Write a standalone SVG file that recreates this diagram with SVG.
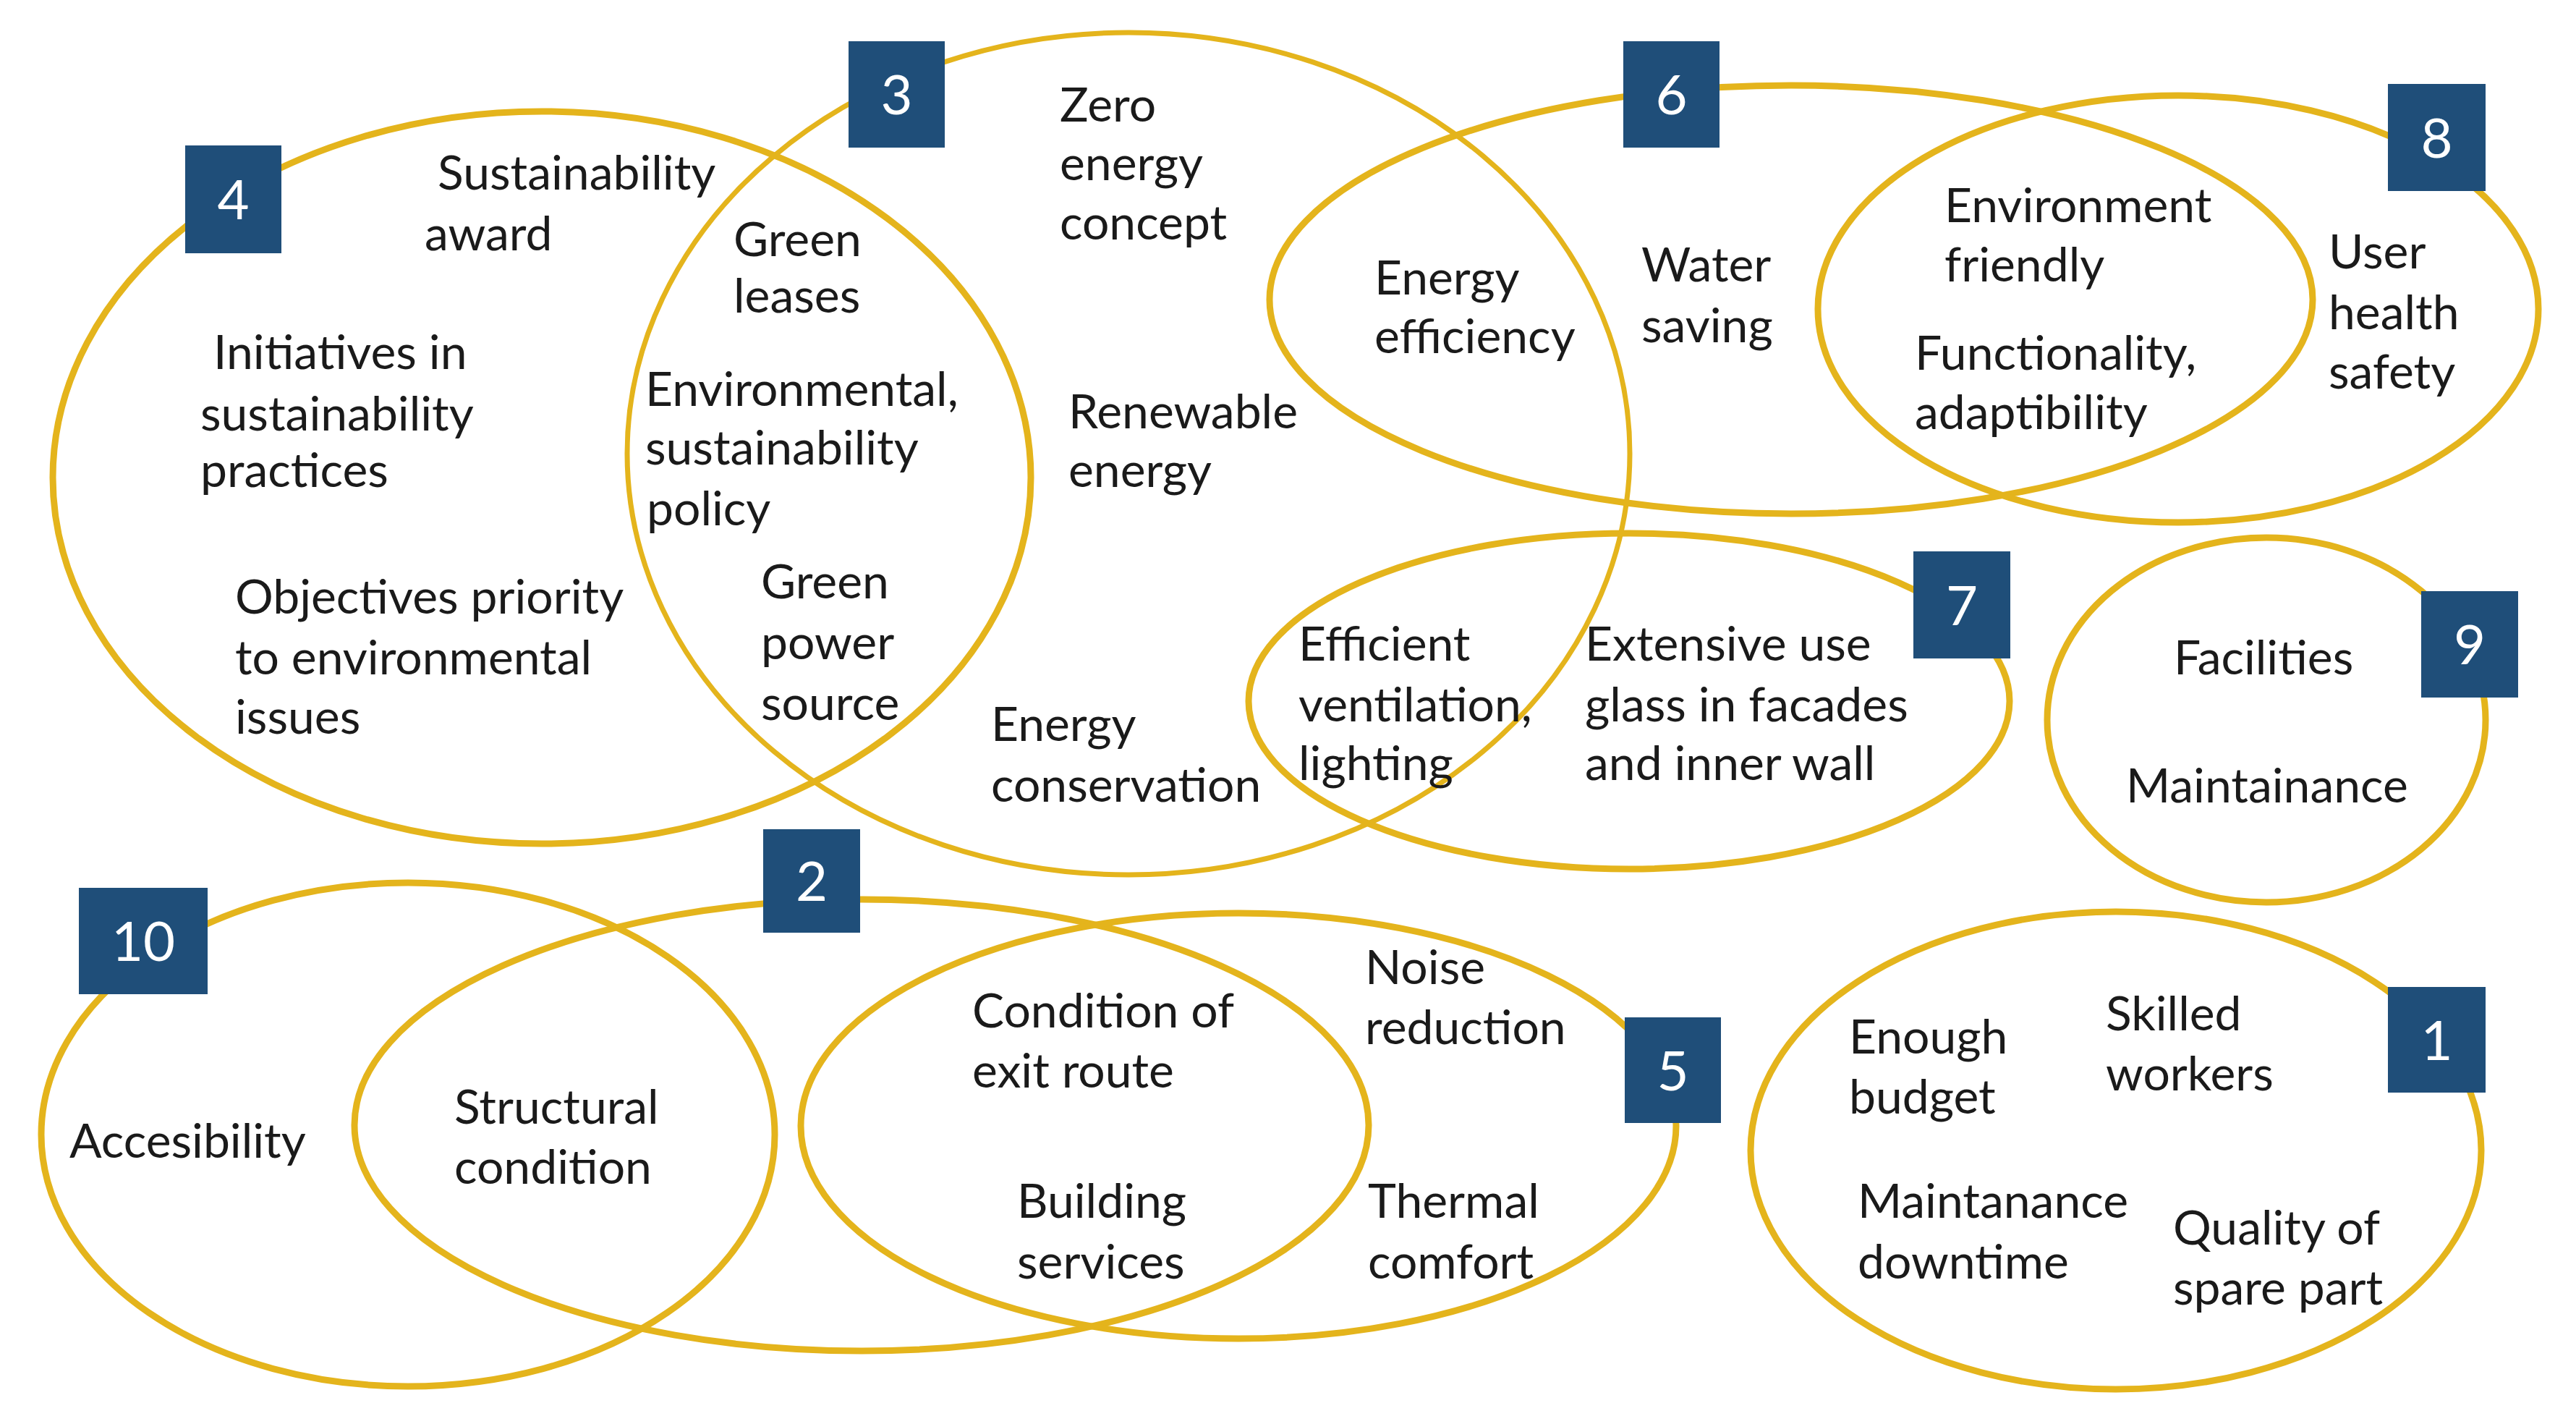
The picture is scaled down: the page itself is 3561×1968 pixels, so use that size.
<svg xmlns="http://www.w3.org/2000/svg" width="3561" height="1968" viewBox="0 0 3561 1968">
<style>
.ring{fill:none;stroke:#e4b41c;stroke-width:9}
.box{fill:#1f4e79}
.num{font-family:Lato,"Open Sans",sans-serif;font-size:76px;fill:#ffffff;text-anchor:middle}
.lbl{font-family:Lato,"Open Sans",sans-serif;font-size:66px;fill:#1a1a1a}
</style>
<rect width="3561" height="1968" fill="#ffffff"/>
<g id="rings">
<ellipse id="ring4" class="ring" cx="749" cy="660" rx="676" ry="506"/>
<ellipse id="ring3" class="ring" cx="1560" cy="627" rx="693" ry="582" style="stroke-width:7"/>
<ellipse id="ring6" class="ring" cx="2476" cy="414" rx="721" ry="296"/>
<ellipse id="ring8" class="ring" cx="3011" cy="427" rx="498" ry="295"/>
<ellipse id="ring7" class="ring" cx="2252" cy="969" rx="526" ry="232"/>
<ellipse id="ring9" class="ring" cx="3133" cy="995" rx="303" ry="252"/>
<ellipse id="ring10" class="ring" cx="564" cy="1568" rx="507" ry="348"/>
<ellipse id="ring2" class="ring" cx="1191" cy="1555" rx="701" ry="312"/>
<ellipse id="ring5" class="ring" cx="1712" cy="1556" rx="605" ry="294"/>
<ellipse id="ring1" class="ring" cx="2925" cy="1590" rx="505" ry="330"/>
</g>
<g id="badges">
<g id="badge4"><rect class="box" x="256" y="201" width="133" height="149"/><text class="num" x="322.5" y="303">4</text></g>
<g id="badge3"><rect class="box" x="1173" y="57" width="133" height="147"/><text class="num" x="1239.5" y="158">3</text></g>
<g id="badge6"><rect class="box" x="2244" y="57" width="133" height="147"/><text class="num" x="2310.5" y="158">6</text></g>
<g id="badge8"><rect class="box" x="3301" y="116" width="135" height="148"/><text class="num" x="3368.5" y="218">8</text></g>
<g id="badge7"><rect class="box" x="2645" y="762" width="134" height="148"/><text class="num" x="2712" y="864">7</text></g>
<g id="badge9"><rect class="box" x="3347" y="817" width="134" height="147"/><text class="num" x="3414" y="918">9</text></g>
<g id="badge10"><rect class="box" x="109" y="1227" width="178" height="147"/><text class="num" x="198" y="1328">10</text></g>
<g id="badge2"><rect class="box" x="1055" y="1146" width="134" height="143"/><text class="num" x="1122" y="1245">2</text></g>
<g id="badge5"><rect class="box" x="2246" y="1406" width="133" height="146"/><text class="num" x="2312.5" y="1507">5</text></g>
<g id="badge1"><rect class="box" x="3301" y="1364" width="135" height="146"/><text class="num" x="3368.5" y="1465">1</text></g>
</g>
<g id="labels">
<g id="t4">
<text class="lbl" x="605" y="262">Sustainability</text>
<text class="lbl" x="587" y="346">award</text>
<text class="lbl" x="295" y="510">Initiatives in</text>
<text class="lbl" x="277" y="595">sustainability</text>
<text class="lbl" x="277" y="673">practices</text>
<text class="lbl" x="325" y="848">Objectives priority</text>
<text class="lbl" x="325" y="932">to environmental</text>
<text class="lbl" x="325" y="1014">issues</text>
</g>
<g id="t34">
<text class="lbl" x="1014" y="354">Green</text>
<text class="lbl" x="1014" y="432">leases</text>
<text class="lbl" x="892" y="561">Environmental,</text>
<text class="lbl" x="892" y="642">sustainability</text>
<text class="lbl" x="894" y="726">policy</text>
<text class="lbl" x="1052" y="827">Green</text>
<text class="lbl" x="1052" y="911">power</text>
<text class="lbl" x="1052" y="995">source</text>
</g>
<g id="t3">
<text class="lbl" x="1465" y="168">Zero</text>
<text class="lbl" x="1465" y="249">energy</text>
<text class="lbl" x="1465" y="331">concept</text>
<text class="lbl" x="1477" y="592">Renewable</text>
<text class="lbl" x="1477" y="673">energy</text>
<text class="lbl" x="1370" y="1024">Energy</text>
<text class="lbl" x="1370" y="1108">conservation</text>
</g>
<g id="t36">
<text class="lbl" x="1900" y="407">Energy</text>
<text class="lbl" x="1900" y="488">efficiency</text>
</g>
<g id="t6">
<text class="lbl" x="2269" y="389">Water</text>
<text class="lbl" x="2269" y="473">saving</text>
</g>
<g id="t68">
<text class="lbl" x="2688" y="307">Environment</text>
<text class="lbl" x="2688" y="389">friendly</text>
<text class="lbl" x="2647" y="511">Functionality,</text>
<text class="lbl" x="2647" y="593">adaptibility</text>
</g>
<g id="t8">
<text class="lbl" x="3219" y="371">User</text>
<text class="lbl" x="3219" y="455">health</text>
<text class="lbl" x="3219" y="537">safety</text>
</g>
<g id="t7">
<text class="lbl" x="1795" y="913">Efficient</text>
<text class="lbl" x="1795" y="997">ventilation,</text>
<text class="lbl" x="1795" y="1078">lighting</text>
<text class="lbl" x="2191" y="913">Extensive use</text>
<text class="lbl" x="2191" y="997">glass in facades</text>
<text class="lbl" x="2191" y="1078">and inner wall</text>
</g>
<g id="t9">
<text class="lbl" x="3005" y="932">Facilities</text>
<text class="lbl" x="2939" y="1109">Maintainance</text>
</g>
<g id="t10">
<text class="lbl" x="96" y="1600">Accesibility</text>
<text class="lbl" x="628" y="1553">Structural</text>
<text class="lbl" x="628" y="1636">condition</text>
</g>
<g id="t25">
<text class="lbl" x="1344" y="1420">Condition of</text>
<text class="lbl" x="1344" y="1503">exit route</text>
<text class="lbl" x="1406" y="1683">Building</text>
<text class="lbl" x="1406" y="1767">services</text>
<text class="lbl" x="1887" y="1360">Noise</text>
<text class="lbl" x="1887" y="1443">reduction</text>
<text class="lbl" x="1891" y="1683">Thermal</text>
<text class="lbl" x="1891" y="1767">comfort</text>
</g>
<g id="t1">
<text class="lbl" x="2556" y="1456">Enough</text>
<text class="lbl" x="2556" y="1539">budget</text>
<text class="lbl" x="2911" y="1424">Skilled</text>
<text class="lbl" x="2911" y="1507">workers</text>
<text class="lbl" x="2568" y="1683">Maintanance</text>
<text class="lbl" x="2568" y="1767">downtime</text>
<text class="lbl" x="3004" y="1720">Quality of</text>
<text class="lbl" x="3004" y="1803">spare part</text>
</g>
</g>
</svg>
